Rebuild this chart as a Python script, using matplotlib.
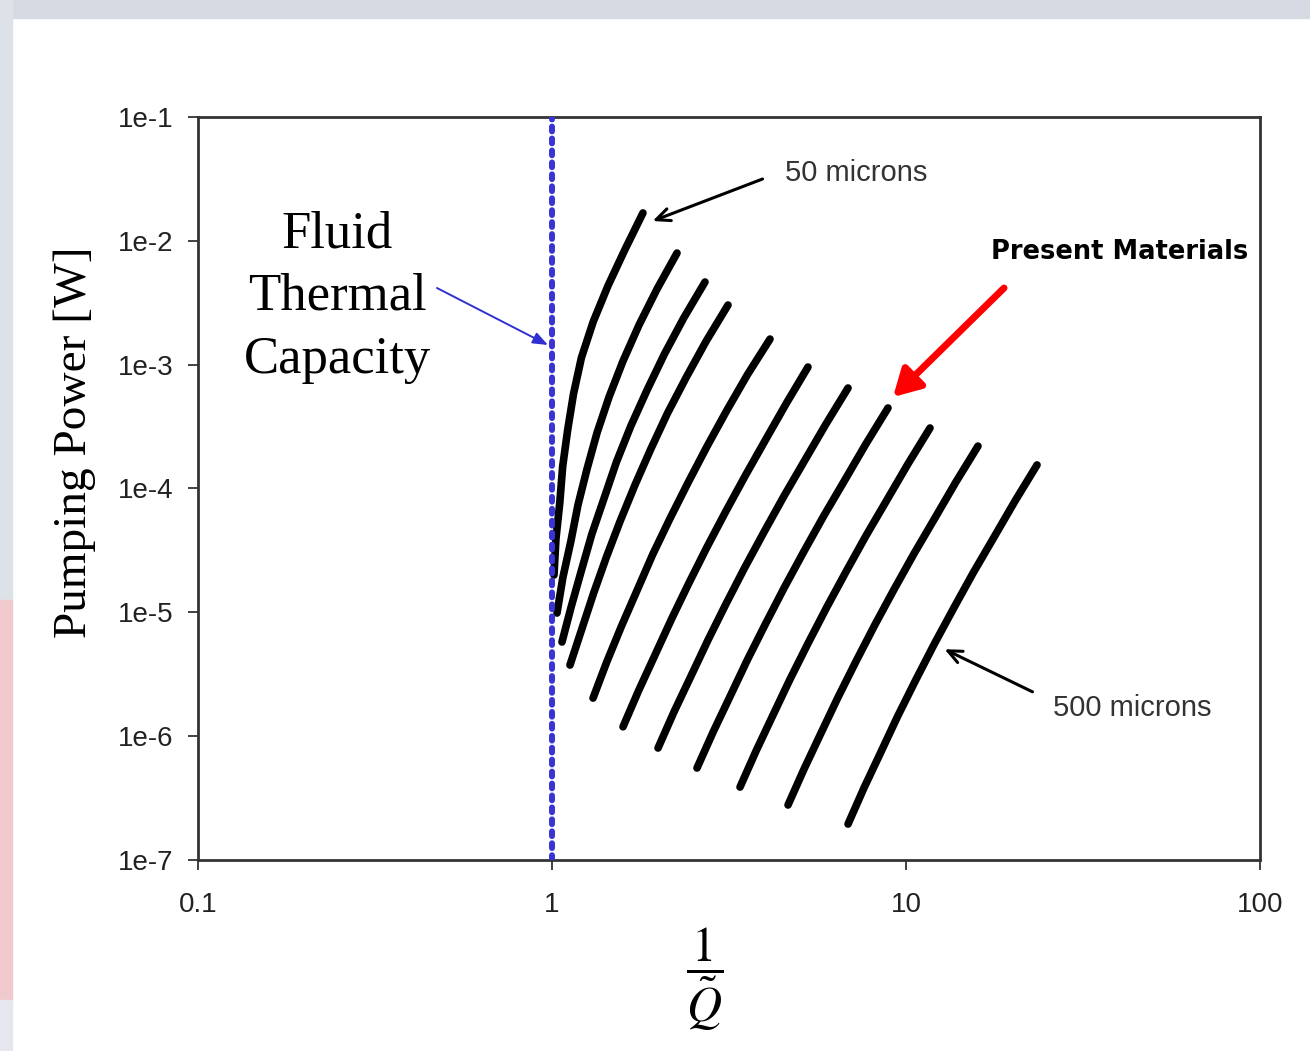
import matplotlib
matplotlib.use("Agg")
import matplotlib.pyplot as plt
from matplotlib.patches import Rectangle

# curves, from 50 microns (left) to 500 microns (right)
curve_x = [
    [1.013, 1.026, 1.052, 1.072, 1.107, 1.150, 1.211, 1.308, 1.441, 1.609, 1.807],
    [1.033, 1.074, 1.131, 1.184, 1.256, 1.340, 1.449, 1.587, 1.761, 1.980, 2.255],
    [1.067, 1.134, 1.212, 1.296, 1.404, 1.521, 1.670, 1.856, 2.078, 2.355, 2.705],
    [1.124, 1.214, 1.311, 1.425, 1.558, 1.716, 1.901, 2.121, 2.397, 2.726, 3.142],
    [1.306, 1.427, 1.571, 1.740, 1.926, 2.154, 2.425, 2.739, 3.113, 3.562, 4.129],
    [1.587, 1.755, 1.954, 2.176, 2.438, 2.741, 3.101, 3.521, 4.023, 4.597, 5.286],
    [1.993, 2.211, 2.470, 2.759, 3.101, 3.498, 3.971, 4.523, 5.184, 5.943, 6.859],
    [2.568, 2.852, 3.188, 3.562, 4.008, 4.523, 5.137, 5.855, 6.717, 7.704, 8.895],
    [3.397, 3.769, 4.210, 4.702, 5.286, 5.963, 6.770, 7.710, 8.838, 10.13, 11.69],
    [4.642, 5.151, 5.754, 6.426, 7.224, 8.149, 9.250, 10.53, 12.08, 13.84, 15.97],
    [6.859, 7.605, 8.489, 9.474, 10.64, 12.00, 13.61, 15.49, 17.75, 20.33, 23.45],
]
curve_y = [
    [2.00e-5, 3.92e-5, 7.69e-5, 1.51e-4, 2.96e-4, 5.80e-4, 1.14e-3, 2.23e-3, 4.37e-3, 8.56e-3, 1.68e-2],
    [9.87e-6, 1.93e-5, 3.77e-5, 7.36e-5, 1.44e-4, 2.81e-4, 5.48e-4, 1.07e-3, 2.09e-3, 4.08e-3, 7.97e-3],
    [5.76e-6, 1.12e-5, 2.20e-5, 4.29e-5, 8.38e-5, 1.64e-4, 3.20e-4, 6.24e-4, 1.22e-3, 2.38e-3, 4.65e-3],
    [3.75e-6, 7.33e-6, 1.43e-5, 2.80e-5, 5.46e-5, 1.07e-4, 2.08e-4, 4.07e-4, 7.95e-4, 1.55e-3, 3.03e-3],
    [2.03e-6, 3.96e-6, 7.73e-6, 1.51e-5, 2.94e-5, 5.72e-5, 1.12e-4, 2.18e-4, 4.24e-4, 8.27e-4, 1.61e-3],
    [1.19e-6, 2.32e-6, 4.52e-6, 8.83e-6, 1.73e-5, 3.37e-5, 6.58e-5, 1.28e-4, 2.51e-4, 4.90e-4, 9.57e-4],
    [8.02e-7, 1.57e-6, 3.06e-6, 5.98e-6, 1.17e-5, 2.28e-5, 4.45e-5, 8.70e-5, 1.70e-4, 3.32e-4, 6.48e-4],
    [5.53e-7, 1.08e-6, 2.11e-6, 4.12e-6, 8.05e-6, 1.57e-5, 3.07e-5, 6.00e-5, 1.17e-4, 2.29e-4, 4.47e-4],
    [3.88e-7, 7.57e-7, 1.48e-6, 2.88e-6, 5.61e-6, 1.09e-5, 2.13e-5, 4.16e-5, 8.10e-5, 1.58e-4, 3.08e-4],
    [2.78e-7, 5.42e-7, 1.06e-6, 2.06e-6, 4.02e-6, 7.83e-6, 1.53e-5, 2.97e-5, 5.80e-5, 1.13e-4, 2.20e-4],
    [1.95e-7, 3.81e-7, 7.42e-7, 1.45e-6, 2.82e-6, 5.50e-6, 1.07e-5, 2.09e-5, 4.07e-5, 7.94e-5, 1.55e-4],
]

x_ticks = [0.1, 1, 10, 100]
x_tick_labels = ["0.1", "1", "10", "100"]
y_ticks = [1e-7, 1e-6, 1e-5, 1e-4, 1e-3, 1e-2, 1e-1]
y_tick_labels = ["1e-7", "1e-6", "1e-5", "1e-4", "1e-3", "1e-2", "1e-1"]
capacity_limit = 1.0

plt.rcParams["font.family"] = ["Liberation Sans", "DejaVu Sans"]
plt.rcParams["mathtext.fontset"] = "stix"

fig = plt.figure(figsize=(13.1, 10.51), dpi=100)
fig.patch.set_facecolor("white")

# faded slide background around the edges
fig.patches.append(Rectangle((0, 1 - 18 / 1051), 1, 18 / 1051, transform=fig.transFigure,
                             color="#d6dae3", zorder=0))
fig.patches.append(Rectangle((0, 1 - 600 / 1051), 12 / 1310, 600 / 1051, transform=fig.transFigure,
                             color="#dde1e8", zorder=0))
fig.patches.append(Rectangle((0, 1 - 1000 / 1051), 12 / 1310, 400 / 1051, transform=fig.transFigure,
                             color="#efc9cc", zorder=0))
fig.patches.append(Rectangle((0, 0), 12 / 1310, 51 / 1051, transform=fig.transFigure,
                             color="#e6e6ee", zorder=0))

ax = fig.add_axes([198 / 1310, 1 - 860 / 1051, 1062 / 1310, 743 / 1051])
ax.set_xscale("log")
ax.set_yscale("log")
ax.set_xlim(0.1, 100)
ax.set_ylim(1e-7, 1e-1)

for xs, ys in zip(curve_x, curve_y):
    ax.plot(xs, ys, color="black", lw=5.5, solid_capstyle="round", solid_joinstyle="round")

ax.axvline(capacity_limit, color="#3a34d2", lw=4.3, linestyle=(0, (0.8, 1.2)),
           dash_capstyle="round", zorder=5)

ax.set_xticks(x_ticks)
ax.set_xticklabels(x_tick_labels)
ax.set_yticks(y_ticks)
ax.set_yticklabels(y_tick_labels)
ax.minorticks_off()
ax.tick_params(axis="both", direction="out", length=7, width=1.3, color="#333333",
               labelsize=20, labelcolor="#222222")
ax.tick_params(axis="x", pad=16)
ax.tick_params(axis="y", pad=11)
for s in ax.spines.values():
    s.set_color("#333333")
    s.set_linewidth(2)

# annotations
ax.annotate("", xy=(1.892, 0.01419), xytext=(4.0, 0.03216),
            arrowprops=dict(arrowstyle="->,head_length=1.0,head_width=0.45", color="black", lw=2.2))
ax.text(4.55, 0.0353, "50 microns", fontsize=21, color="#333333", va="center", ha="left")

ax.annotate("", xy=(12.64, 5.15e-6), xytext=(23.14, 2.23e-6),
            arrowprops=dict(arrowstyle="->,head_length=1.0,head_width=0.45", color="black", lw=2.2))
ax.text(26.0, 1.69e-6, "500 microns", fontsize=21, color="#333333", va="center", ha="left")

ax.text(40.2, 8.13e-3, "Present Materials", fontsize=18.5, fontweight="bold", color="black",
        family="DejaVu Sans", va="center", ha="center")
ax.annotate("", xy=(9.19, 5.48e-4), xytext=(18.92, 4.16e-3),
            arrowprops=dict(arrowstyle="-|>,head_length=1.6,head_width=0.9", color="#ff0000",
                            lw=5, shrinkA=0, shrinkB=0, capstyle="round"))

ax.text(0.247, 3.52e-3, "Fluid\nThermal\nCapacity", fontsize=38, family="Liberation Serif",
        ha="center", va="center", linespacing=1.4)
ax.annotate("", xy=(0.9743, 1.441e-3), xytext=(0.4732, 4.16e-3),
            arrowprops=dict(arrowstyle="-|>,head_length=0.9,head_width=0.35", color="#3030d0",
                            lw=1.4, shrinkA=0, shrinkB=0), zorder=6)

fig.text(75 / 1310, 1 - 442 / 1051, "Pumping Power [W]", fontsize=34, family="Liberation Serif",
         rotation=90, ha="center", va="center")
fig.text(705 / 1310, 1 - 979 / 1051, r"$\dfrac{1}{\tilde{Q}}$", fontsize=35,
         ha="center", va="center")

fig.savefig("out.png", dpi=100, facecolor=fig.get_facecolor())
